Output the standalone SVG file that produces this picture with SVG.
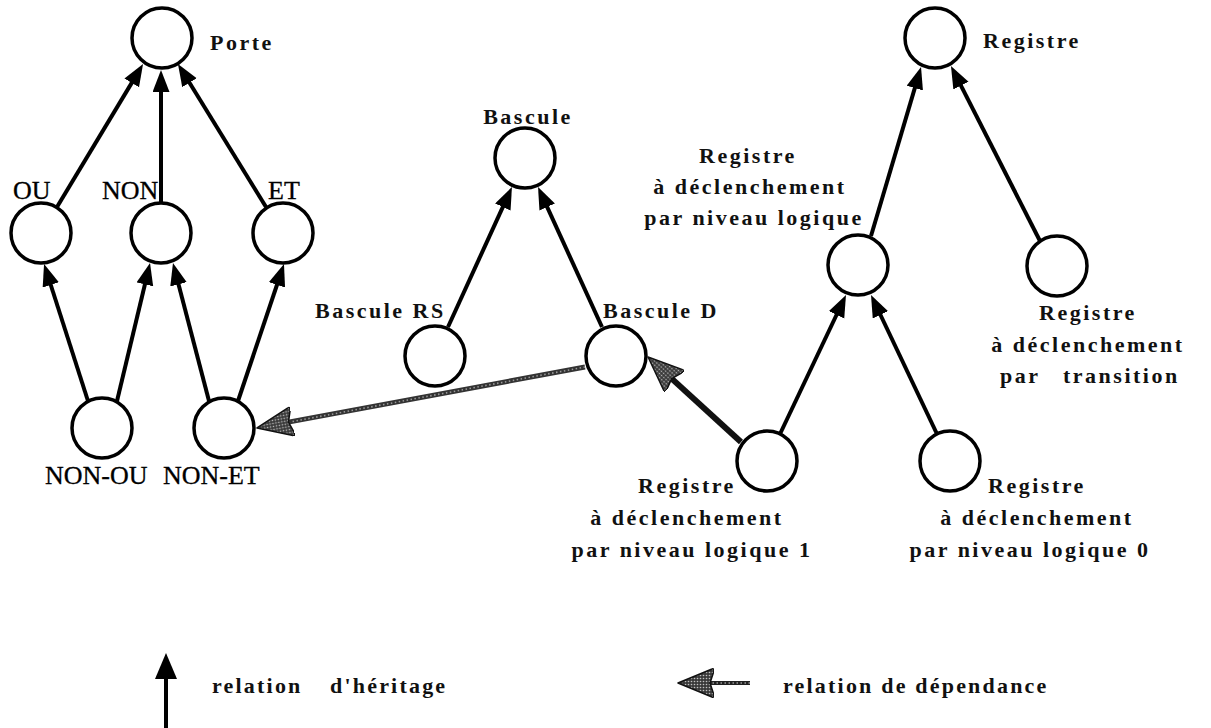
<svg xmlns="http://www.w3.org/2000/svg" width="1211" height="728" viewBox="0 0 1211 728">
<style>
.node circle{fill:#fff;stroke:#000;stroke-width:3.5}
.lbl{font-family:"Liberation Serif","Times New Roman",serif;font-size:22px;font-weight:bold;letter-spacing:2.5px;fill:#111}
.leg{font-family:"Liberation Serif","Times New Roman",serif;font-size:22px;font-weight:bold;letter-spacing:2.2px;fill:#111}
.gate{font-family:"Liberation Serif","Times New Roman",serif;font-size:26px;fill:#000;stroke:#000;stroke-width:0.3}
.inh{stroke:#000;stroke-width:4;fill:none;marker-end:url(#inh)}
.dep{stroke:#333;stroke-width:5;fill:none}
.depdots{stroke:#999;stroke-width:1.6;stroke-dasharray:1.5 2.5;fill:none}
.depbold{stroke:#111;stroke-width:6;fill:none}
</style>
<defs>
<pattern id="stip" width="3" height="3" patternUnits="userSpaceOnUse">
<rect width="3" height="3" fill="#3a3a3a"/>
<circle cx="1.5" cy="1.5" r="0.8" fill="#c0c0c0"/>
</pattern>
<marker id="inh" markerUnits="userSpaceOnUse" markerWidth="24" markerHeight="18" refX="12" refY="8.5" orient="auto">
<path d="M0,0 L22,8.5 L0,17 z" fill="#000"/>
</marker>
<marker id="inhL" markerUnits="userSpaceOnUse" markerWidth="28" markerHeight="24" refX="12" refY="11" orient="auto">
<path d="M0,0 L26,11 L0,22 z" fill="#000"/>
</marker>
<marker id="dep" markerUnits="userSpaceOnUse" markerWidth="40" markerHeight="32" refX="11" refY="15" orient="auto">
<path d="M36,15 L2,1 Q0,0 0,3 L4,15 L0,27 Q0,30 2,29 z" fill="url(#stip)" stroke="#111" stroke-width="1.5" stroke-linejoin="round"/>
</marker>
</defs>
<rect width="1211" height="728" fill="#fff"/>

<g id="connectors">
<line class="inh" x1="57" y1="207" x2="137.9" y2="72.6"/>
<line class="inh" x1="161" y1="203" x2="161" y2="80"/>
<line class="inh" x1="266" y1="207" x2="183.2" y2="72.5"/>
<line class="inh" x1="88" y1="401" x2="47.1" y2="273.5"/>
<line class="inh" x1="117" y1="401" x2="147.7" y2="272.7"/>
<line class="inh" x1="209" y1="401" x2="175.5" y2="272.7"/>
<line class="inh" x1="238" y1="401" x2="280.8" y2="273.5"/>
<line class="inh" x1="448" y1="327" x2="507.8" y2="196.1"/>
<line class="inh" x1="602" y1="327" x2="542.2" y2="196.1"/>
<line class="inh" x1="871" y1="236" x2="918.2" y2="76.6"/>
<line class="inh" x1="1040" y1="241" x2="955.5" y2="74.9"/>
<line class="inh" x1="780" y1="434" x2="841.7" y2="304"/>
<line class="inh" x1="937" y1="434" x2="875.3" y2="304"/>
<line class="dep" x1="585" y1="367" x2="281.6" y2="423.4" marker-end="url(#dep)"/>
<line class="depdots" x1="585" y1="367" x2="290" y2="422"/>
<line class="depbold" x1="741" y1="442" x2="666.5" y2="373.9" marker-end="url(#dep)"/>
</g>

<g id="n-porte" class="node"><circle cx="162" cy="38" r="30"/><text class="lbl" x="210" y="50">Porte</text></g>
<g id="n-ou" class="node"><circle cx="41" cy="233" r="30"/><text class="gate" x="13" y="199">OU</text></g>
<g id="n-non" class="node"><circle cx="161" cy="233" r="30"/><text class="gate" x="102" y="199">NON</text></g>
<g id="n-et" class="node"><circle cx="283" cy="233" r="30"/><text class="gate" x="268" y="199">ET</text></g>
<g id="n-nonou" class="node"><circle cx="102" cy="428" r="30"/><text class="gate" x="45" y="484">NON-OU</text></g>
<g id="n-nonet" class="node"><circle cx="224" cy="428" r="30"/><text class="gate" x="163" y="484">NON-ET</text></g>

<g id="n-bascule" class="node"><circle cx="525" cy="158" r="30"/><text class="lbl" x="528" y="124" text-anchor="middle">Bascule</text></g>
<g id="n-rs" class="node"><circle cx="435" cy="356" r="30"/><text class="lbl" x="315" y="318">Bascule RS</text></g>
<g id="n-d" class="node"><circle cx="616" cy="356" r="30"/><text class="lbl" x="603" y="318">Bascule D</text></g>

<g id="n-registre" class="node"><circle cx="935" cy="38" r="30"/><text class="lbl" x="983" y="48">Registre</text></g>
<g id="n-rnl" class="node"><circle cx="858" cy="265" r="30"/>
<text class="lbl" text-anchor="middle"><tspan x="748" y="163">Registre</tspan><tspan x="750" y="194">à déclenchement</tspan><tspan x="754" y="225">par niveau logique</tspan></text></g>
<g id="n-rtr" class="node"><circle cx="1057" cy="266" r="30"/>
<text class="lbl" text-anchor="middle"><tspan x="1088" y="320">Registre</tspan><tspan x="1088" y="352">à déclenchement</tspan></text>
<text class="lbl" y="383"><tspan x="1000">par</tspan><tspan x="1063">transition</tspan></text></g>
<g id="n-rn1" class="node"><circle cx="767" cy="461" r="30"/>
<text class="lbl" text-anchor="middle"><tspan x="687" y="493">Registre</tspan><tspan x="687" y="525">à déclenchement</tspan><tspan x="692" y="557">par niveau logique 1</tspan></text></g>
<g id="n-rn0" class="node"><circle cx="950" cy="461" r="30"/>
<text class="lbl" text-anchor="middle"><tspan x="1037" y="493">Registre</tspan><tspan x="1037" y="525">à déclenchement</tspan><tspan x="1030" y="557">par niveau logique 0</tspan></text></g>

<g id="legend">
<line x1="166" y1="728" x2="166" y2="667" stroke="#000" stroke-width="4" marker-end="url(#inhL)"/>
<text class="leg" y="693"><tspan x="212">relation</tspan><tspan x="330">d'héritage</tspan></text>
<line x1="750" y1="683" x2="703" y2="683" stroke="#222" stroke-width="4" marker-end="url(#dep)"/>
<line class="depdots" x1="750" y1="683" x2="712" y2="683"/>
<text class="leg" x="783" y="693">relation de dépendance</text>
</g>
</svg>
